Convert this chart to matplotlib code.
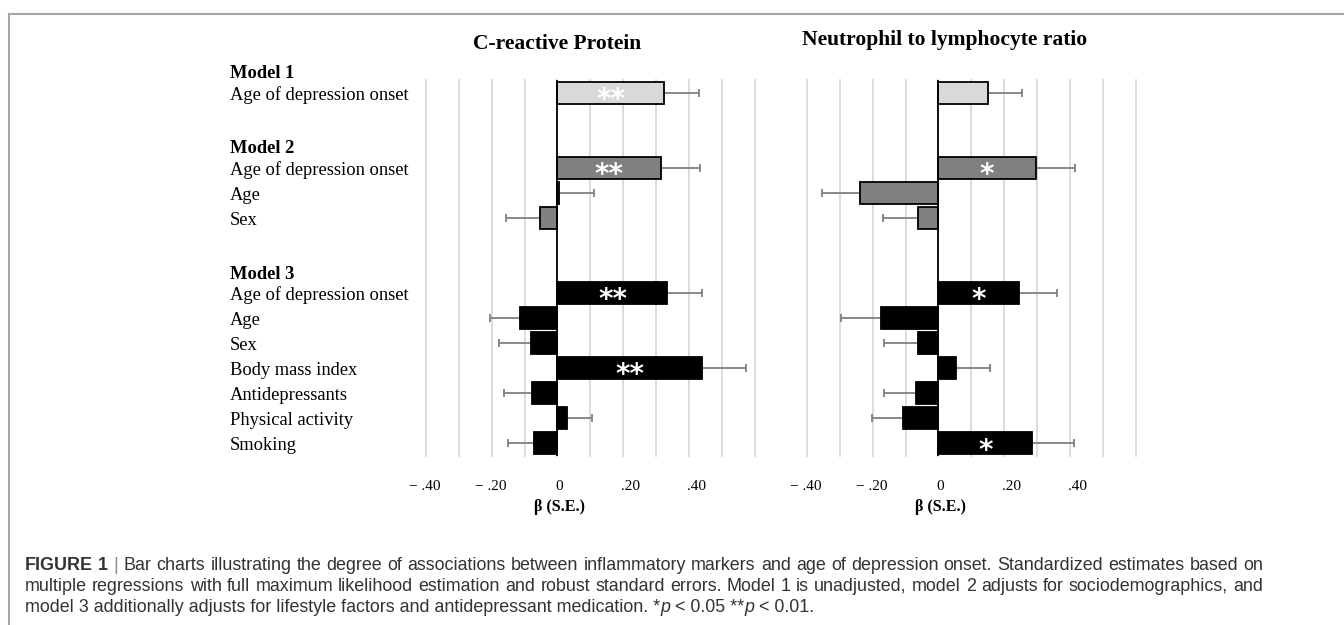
import matplotlib
matplotlib.use('Agg')
import matplotlib.pyplot as plt
from matplotlib.lines import Line2D
from matplotlib.transforms import blended_transform_factory, offset_copy
import numpy as np

# rows on a 25px grid, top to bottom (blank rows between models)
rows = [0, 3, 4, 5, 8, 9, 10, 11, 12, 13, 14]
labels = ['Age of depression onset', 'Age of depression onset', 'Age', 'Sex',
          'Age of depression onset', 'Age', 'Sex', 'Body mass index',
          'Antidepressants', 'Physical activity', 'Smoking']
model = [1, 2, 2, 2, 3, 3, 3, 3, 3, 3, 3]
headers = ['Model 1', 'Model 2', 'Model 3']
header_rows = [0, 3, 8]

crp_beta = [0.325, 0.314, 0.004, -0.053, 0.335, -0.113, -0.081, 0.440, -0.076, 0.029, -0.072]
crp_se = [0.106, 0.119, 0.106, 0.105, 0.104, 0.092, 0.097, 0.133, 0.086, 0.076, 0.079]
crp_sig = ['**', '**', '', '', '**', '', '', '**', '', '', '']

nlr_beta = [0.150, 0.296, -0.240, -0.062, 0.244, -0.175, -0.063, 0.054, -0.068, -0.107, 0.286]
nlr_se = [0.104, 0.118, 0.114, 0.107, 0.116, 0.121, 0.102, 0.103, 0.097, 0.095, 0.126]
nlr_sig = ['', '*', '', '', '*', '', '', '', '', '', '*']

tick_vals = [-0.4, -0.2, 0, 0.2, 0.4]
tick_labels = ['\u2212 .40', '\u2212 .20', '0', '.20', '.40']
grid_vals = np.round(np.arange(-0.4, 0.61, 0.1), 2)

model_colors = {1: '#d9d9d9', 2: '#808080', 3: 'black'}
serif = 'Liberation Serif'

fig = plt.figure(figsize=(13.44, 6.25), dpi=100)
ax1 = fig.add_axes([0.3170, 0.2712, 0.2444, 0.6008])
ax2 = fig.add_axes([0.6004, 0.2712, 0.2446, 0.6008])


def panel(ax, beta, se, sig, title, title_y):
    beta = np.array(beta)
    se = np.array(se)
    cols = [model_colors[m] for m in model]
    ax.barh(rows, beta, height=0.88, color=cols, edgecolor='black', linewidth=1.3, zorder=3)
    xerr = [np.where(beta < 0, se, 0), np.where(beta >= 0, se, 0)]
    ax.errorbar(beta, rows, xerr=xerr, fmt='none', ecolor='#7f7f7f', elinewidth=1.3,
                capsize=2.6, capthick=1.3, zorder=2)
    ax.axvline(0, color='black', lw=1.3, zorder=4)
    for r, b, s in zip(rows, beta, sig):
        if s:
            ax.text(b / 2, r + 0.62, s, ha='center', va='baseline', color='white',
                    fontsize=20, family='DejaVu Sans', fontweight='bold', zorder=5)
    ax.set_xlim(-0.4, 0.6)
    ax.set_ylim(14.5, -0.5)
    ax.set_xticks(grid_vals)
    ax.set_yticks([])
    ax.grid(axis='x', color='#d9d9d9', lw=1.3, zorder=0)
    for gl in ax.get_xgridlines():
        gl.set_clip_on(False)
    ax.tick_params(bottom=False, labelbottom=False)
    for sp in ax.spines.values():
        sp.set_visible(False)
    ax.set_axisbelow(True)

    # tick labels, positives sit a bit right as in the source
    tr = blended_transform_factory(ax.transData, fig.transFigure)
    for v, lab in zip(tick_vals, tick_labels):
        dx = 5.5 if v > 0 else (1 if v == 0 else -1)
        t = offset_copy(tr, fig=fig, x=dx, y=0, units='points')
        ax.text(v, 1 - 489.5 / 625, lab, transform=t, ha='center', va='baseline',
                fontsize=11, family=serif)
    ax.text(0.005, 1 - 511 / 625, '\u03b2 (S.E.)', transform=tr, ha='center', va='baseline',
            fontsize=11.5, family=serif, fontweight='bold')
    ax.text(0, title_y, title, transform=tr, ha='center', va='baseline',
            fontsize=15.5, family=serif, fontweight='bold')


panel(ax1, crp_beta, crp_se, crp_sig, 'C-reactive Protein', 1 - 49 / 625)
panel(ax2, nlr_beta, nlr_se, nlr_sig, 'Neutrophil to lymphocyte ratio', 1 - 45 / 625)
ax2.texts[-1].set_x(0.02)

# row labels on the left
ltr = blended_transform_factory(fig.transFigure, ax1.transData)
for r, lab in zip(rows, labels):
    ax1.text(230 / 1344, r + 0.28, lab, transform=ltr, ha='left', va='baseline',
             fontsize=13.3, family=serif, clip_on=False)
for r, h in zip(header_rows, headers):
    ax1.text(230 / 1344, r - 0.57, h, transform=ltr, ha='left', va='baseline',
             fontsize=13.3, family=serif, fontweight='bold', clip_on=False)

# frame
fig.add_artist(Line2D([9 / 1344, 9 / 1344], [0, 1 - 14 / 625], color='#a6a6a6', lw=1.5))
fig.add_artist(Line2D([9 / 1344, 1], [1 - 14 / 625, 1 - 14 / 625], color='#a6a6a6', lw=1.5))

# caption (lines 1-2 justified like the journal layout)
renderer = fig.canvas.get_renderer()
cap_size = 12.9
cap_left, cap_right = 25, 1263


def cap_text(x_px, y_px, s, kw):
    opts = dict(fontsize=cap_size, family='Liberation Sans', ha='left', va='baseline',
                color='#333333')
    opts.update(kw)
    t = fig.text(x_px / 1344, 1 - y_px / 625, s, **opts)
    return t.get_window_extent(renderer).width


def justified_line(y_px, pieces):
    words = []
    for s, kw in pieces:
        words += [(w, kw) for w in s.split()]
    widths = []
    texts = []
    for w, kw in words:
        widths.append(cap_text(cap_left, y_px, w, kw))
        texts.append(fig.texts[-1])
    gap = (cap_right - cap_left - sum(widths)) / (len(words) - 1)
    x = cap_left
    for t, w in zip(texts, widths):
        t.set_x(x / 1344)
        x += w + gap


def plain_line(y_px, pieces):
    x = cap_left
    for s, kw in pieces:
        x += cap_text(x, y_px, s, kw)


justified_line(570, [('FIGURE 1', {'fontweight': 'bold'}), ('|', {'color': '#8c8c8c'}),
                     ('Bar charts illustrating the degree of associations between inflammatory markers '
                      'and age of depression onset. Standardized estimates based on', {})])
justified_line(591, [('multiple regressions with full maximum likelihood estimation and robust standard '
                      'errors. Model 1 is unadjusted, model 2 adjusts for sociodemographics, and', {})])
plain_line(612, [('model 3 additionally adjusts for lifestyle factors and antidepressant medication. *', {}),
                 ('p', {'style': 'italic'}), (' < 0.05 **', {}), ('p', {'style': 'italic'}),
                 (' < 0.01.', {})])

fig.savefig('out.png', dpi=100)
